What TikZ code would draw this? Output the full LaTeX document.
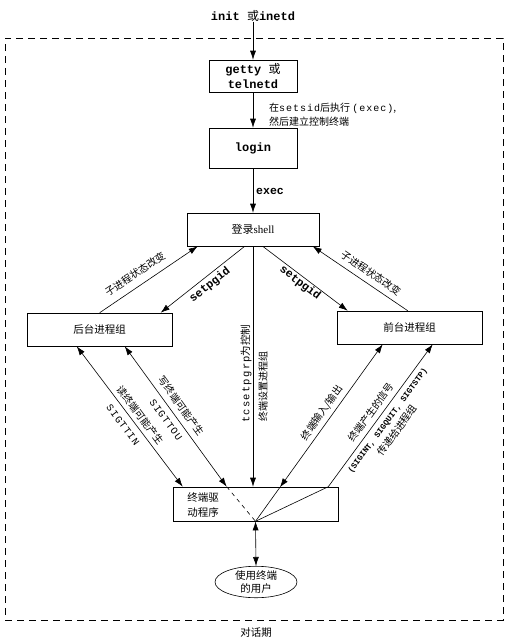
\documentclass[tikz,border=0pt]{standalone}
\usepackage{fontspec}
\setmainfont{Liberation Serif}
\setmonofont{Liberation Mono}
\newfontfamily\cjk{Noto Sans CJK SC}
\newfontfamily\spmono[LetterSpace=10]{Liberation Mono}
\newfontfamily\wspmono[LetterSpace=12]{Liberation Mono}
\usetikzlibrary{arrows.meta,shapes.geometric,calc}
\newcommand\CJ[1]{{\cjk\mdseries #1}}
\newcommand\TS[1]{{\spmono #1}}
\begin{document}
\begin{tikzpicture}[x=1pt,y=-1pt,
  box/.style={draw,line width=0.6pt,inner sep=0pt},
  conn/.style={line width=0.6pt},
  arr/.style={-{Latex[length=9pt,width=6pt]}},
  darr/.style={{Latex[length=9pt,width=6pt]}-{Latex[length=9pt,width=6pt]}},
  lab/.style={inner sep=0pt,font=\cjk\fontsize{10}{12}\selectfont},
  mlab/.style={inner sep=0pt,font=\ttfamily\bfseries\fontsize{12}{15}\selectfont},
  slab/.style={inner sep=0pt,font=\spmono\fontsize{10}{12}\selectfont}]
\useasboundingbox (0,0) rectangle (516,640);
\fill[white] (0,0) rectangle (516,640);
% session frame
\node[draw,line width=0.6pt,dash pattern=on 7pt off 5pt,minimum width=498pt,minimum height=582pt,inner sep=0pt] (session) at (254,329) {};
\node[lab,font=\cjk\fontsize{10.5}{12}\selectfont] (sesslab) at (256,633) {对话期};
% nodes
\node[mlab] (init) at (253,16) {init \CJ{或}inetd};
\node[box,mlab,align=center,minimum width=88pt,minimum height=32pt] (getty) at (253,76) {getty \CJ{或}\\telnetd};
\node[box,mlab,minimum width=88pt,minimum height=40pt] (login) at (253,148) {login};
\node[box,minimum width=132pt,minimum height=33pt,font=\fontsize{11}{13}\selectfont] (shell) at (253,229.5) {\CJ{登录}shell};
\node[box,lab,font=\cjk\fontsize{10.5}{12}\selectfont,minimum width=145pt,minimum height=33pt] (bg) at (99.5,329.5) {后台进程组};
\node[box,lab,font=\cjk\fontsize{10.5}{12}\selectfont,minimum width=145pt,minimum height=33pt] (fg) at (409.5,327.5) {前台进程组};
\node[box,minimum width=165pt,minimum height=34pt] (driver) at (255.5,504) {};
\node[lab,font=\cjk\fontsize{10.5}{15}\selectfont,align=left] (drvtext) at (203,505) {终端驱\\动程序};
\node[draw,ellipse,line width=0.6pt,inner sep=0pt,minimum width=82pt,minimum height=28pt,font=\cjk\fontsize{10.5}{12.5}\selectfont,align=center] (user) at (256,582) {使用终端\\的用户};
% top connectors
\draw[conn,arr] (init) -- (getty);
\draw[conn,arr] (getty) -- (login);
\node[lab,anchor=west,align=left,font=\cjk\fontsize{10}{14}\selectfont] (setsidlab) at (269,115) {在\TS{setsid}后执行 \TS{(exec)},\\然后建立控制终端};
\draw[conn,arr] (login) -- (shell);
\node[inner sep=0pt,anchor=west,font=\ttfamily\bfseries\fontsize{11.5}{13}\selectfont] (execlab) at (256,191) {exec};
% shell <-> groups
\draw[conn,arr] ($(shell.south west)+(58,0)$) -- ($(bg.north west)+(134,0)$);
\draw[conn,arr] ($(bg.north west)+(73,0)$) -- ($(shell.south west)+(11,0)$);
\draw[conn,arr] ($(shell.south west)+(76,0)$) -- ($(fg.north west)+(11,0)$);
\draw[conn,arr] ($(fg.north west)+(71,0)$) -- ($(shell.south west)+(126,0)$);
\node[lab,rotate=34] (l1) at (135,274) {子进程状态改变};
\node[inner sep=0pt,rotate=38.6,font=\ttfamily\bfseries\fontsize{11.5}{13}\selectfont] (l2) at (210,285) {setpgid};
\node[inner sep=0pt,rotate=-37.4,font=\ttfamily\bfseries\fontsize{11.5}{13}\selectfont] (l3) at (300,283) {setpgid};
\node[lab,rotate=-34.4] (l4) at (371,273) {子进程状态改变};
% shell -> driver
\draw[conn,arr] (shell.south) -- (shell.south |- driver.north);
\node[inner sep=0pt,rotate=90,anchor=west,font=\wspmono\fontsize{10.5}{12}\selectfont] (l9) at (246,423) {tcsetpgrp\CJ{为控制}};
\node[lab,rotate=90,anchor=west] (l10) at (263,422) {终端设置进程组};
% background <-> driver
\draw[conn,darr] ($(bg.south west)+(50,0)$) -- ($(driver.north west)+(10,0)$);
\draw[conn,darr] ($(bg.south west)+(98,0)$) -- ($(driver.north west)+(54,0)$) coordinate (g2);
\draw[conn,dash pattern=on 4pt off 4pt] (g2) -- (driver.south);
\node[lab,rotate=-53] (l5) at (140,415) {读终端可能产生};
\node[slab,rotate=-53] (l6) at (123,425) {SIGTTIN};
\node[lab,rotate=-54] (l7) at (181,406) {写终端可能产生};
\node[slab,rotate=-54] (l8) at (166,420) {SIGTTOU};
% foreground <-> driver
\coordinate (h0) at ($(fg.south west)+(46,0)$);
\coordinate (h1) at ($(h0)!0.808!(driver.south)$);
\draw[conn,darr] (h0) -- (h1);
\draw[conn] (h1) -- (driver.south);
\draw[conn,arr] (driver.south) -- ($(driver.north east)+(-10,0)$) -- ($(fg.south west)+(96,0)$);
\node[lab,rotate=55] (l11) at (322,413) {终端输入/输出};
\node[lab,rotate=53.7] (l12) at (371,412) {终端产生的信号};
\node[inner sep=0pt,rotate=53.7,font=\ttfamily\bfseries\fontsize{8.2}{10}\selectfont] (l13) at (388,421) {(SIGINT, SIGQUIT, SIGTSTP)};
\node[lab,rotate=53.7] (l14) at (397,430) {传递给进程组};
% driver <-> user
\draw[conn,darr] (driver.south) -- (user.north);
\end{tikzpicture}
\end{document}
